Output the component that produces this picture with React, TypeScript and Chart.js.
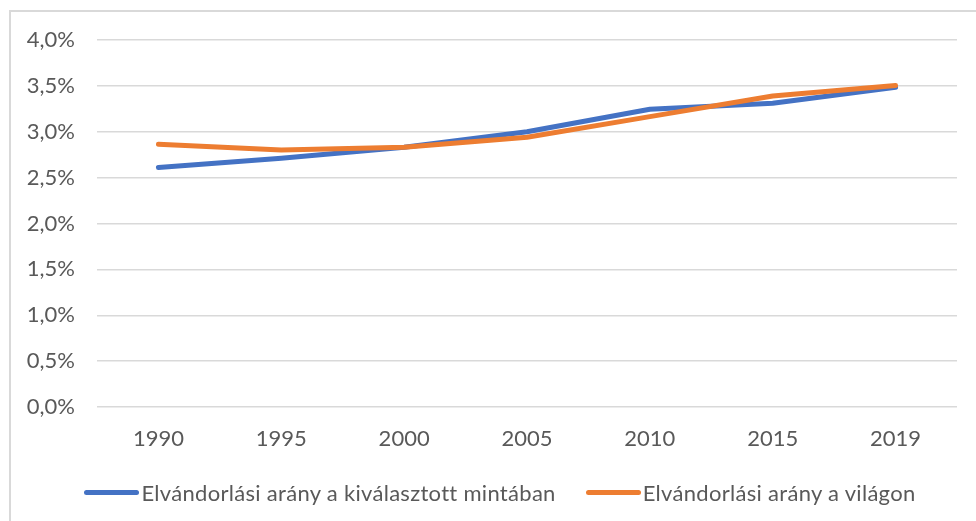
import React, { useEffect, useRef } from "react";
import { Chart, registerables } from "chart.js";

Chart.register(...registerables);

const years = ["1990", "1995", "2000", "2005", "2010", "2015", "2019"];
const sampleRate = [2.61, 2.71, 2.83, 3.0, 3.245, 3.31, 3.485];
const worldRate = [2.865, 2.8, 2.83, 2.94, 3.165, 3.39, 3.505];
const seriesNames = [
  "Elvándorlási arány a kiválasztott mintában",
  "Elvándorlási arány a világon",
];
const seriesColors = ["#4472C4", "#ED7D31"];

const FONT = "Lato, 'Open Sans', sans-serif";
const TEXT = "#595959";

export default function App() {
  const ref = useRef<HTMLCanvasElement | null>(null);

  useEffect(() => {
    if (!ref.current) return;
    const chart = new Chart(ref.current, {
      type: "line",
      data: {
        labels: years,
        datasets: [
          {
            label: seriesNames[0],
            data: sampleRate,
            borderColor: seriesColors[0],
            backgroundColor: seriesColors[0],
            borderWidth: 5,
            borderCapStyle: "round",
            borderJoinStyle: "round",
            pointRadius: 0,
            tension: 0,
            order: 1,
          },
          {
            label: seriesNames[1],
            data: worldRate,
            borderColor: seriesColors[1],
            backgroundColor: seriesColors[1],
            borderWidth: 5,
            borderCapStyle: "round",
            borderJoinStyle: "round",
            pointRadius: 0,
            tension: 0,
            order: 0,
          },
        ],
      },
      options: {
        animation: false,
        responsive: false,
        maintainAspectRatio: false,
        layout: { padding: { top: 40, right: 19, bottom: 54, left: 0 } },
        plugins: {
          legend: { display: false },
          tooltip: { enabled: false },
        },
        scales: {
          x: {
            offset: true,
            grid: { display: false, drawTicks: false },
            border: { display: false },
            ticks: {
              color: TEXT,
              font: { family: FONT, size: 22 },
              padding: 19,
              maxRotation: 0,
            },
            afterFit: (s: any) => {
              s.height = 60;
            },
          },
          y: {
            min: 0,
            max: 4,
            grid: { color: "#d9d9d9", lineWidth: 1.5, drawTicks: false },
            border: { display: false },
            ticks: {
              stepSize: 0.5,
              color: TEXT,
              font: { family: FONT, size: 22 },
              padding: 22,
              callback: (v: any) => Number(v).toFixed(1).replace(".", ",") + "%",
            },
            afterFit: (s: any) => {
              s.width = 97;
            },
          },
        },
      },
    });
    return () => chart.destroy();
  }, []);

  return (
    <div
      style={{
        position: "fixed",
        left: 0,
        top: 0,
        width: 976,
        height: 521,
        overflow: "hidden",
        background: "#fff",
      }}
    >
      <div
        style={{
          position: "absolute",
          left: 9,
          top: 10,
          width: 1100,
          height: 700,
          border: "2px solid #d9d9d9",
          boxSizing: "border-box",
        }}
      />
      <canvas
        ref={ref}
        width={976}
        height={521}
        style={{ position: "absolute", left: 0, top: 0, width: 976, height: 521 }}
      />
      <div
        style={{
          position: "absolute",
          left: 0,
          top: 477,
          width: 1000,
          height: 30,
          display: "flex",
          justifyContent: "center",
          alignItems: "center",
          gap: 30,
          fontFamily: FONT,
          fontSize: 22,
          letterSpacing: 0.3,
          color: TEXT,
        }}
      >
        {seriesNames.map((name, i) => (
          <div key={name} style={{ display: "flex", alignItems: "center" }}>
            <span
              style={{
                display: "inline-block",
                width: 55,
                height: 5,
                borderRadius: 3,
                background: seriesColors[i],
              }}
            />
            <span style={{ marginLeft: 2, whiteSpace: "nowrap" }}>{name}</span>
          </div>
        ))}
      </div>
    </div>
  );
}
